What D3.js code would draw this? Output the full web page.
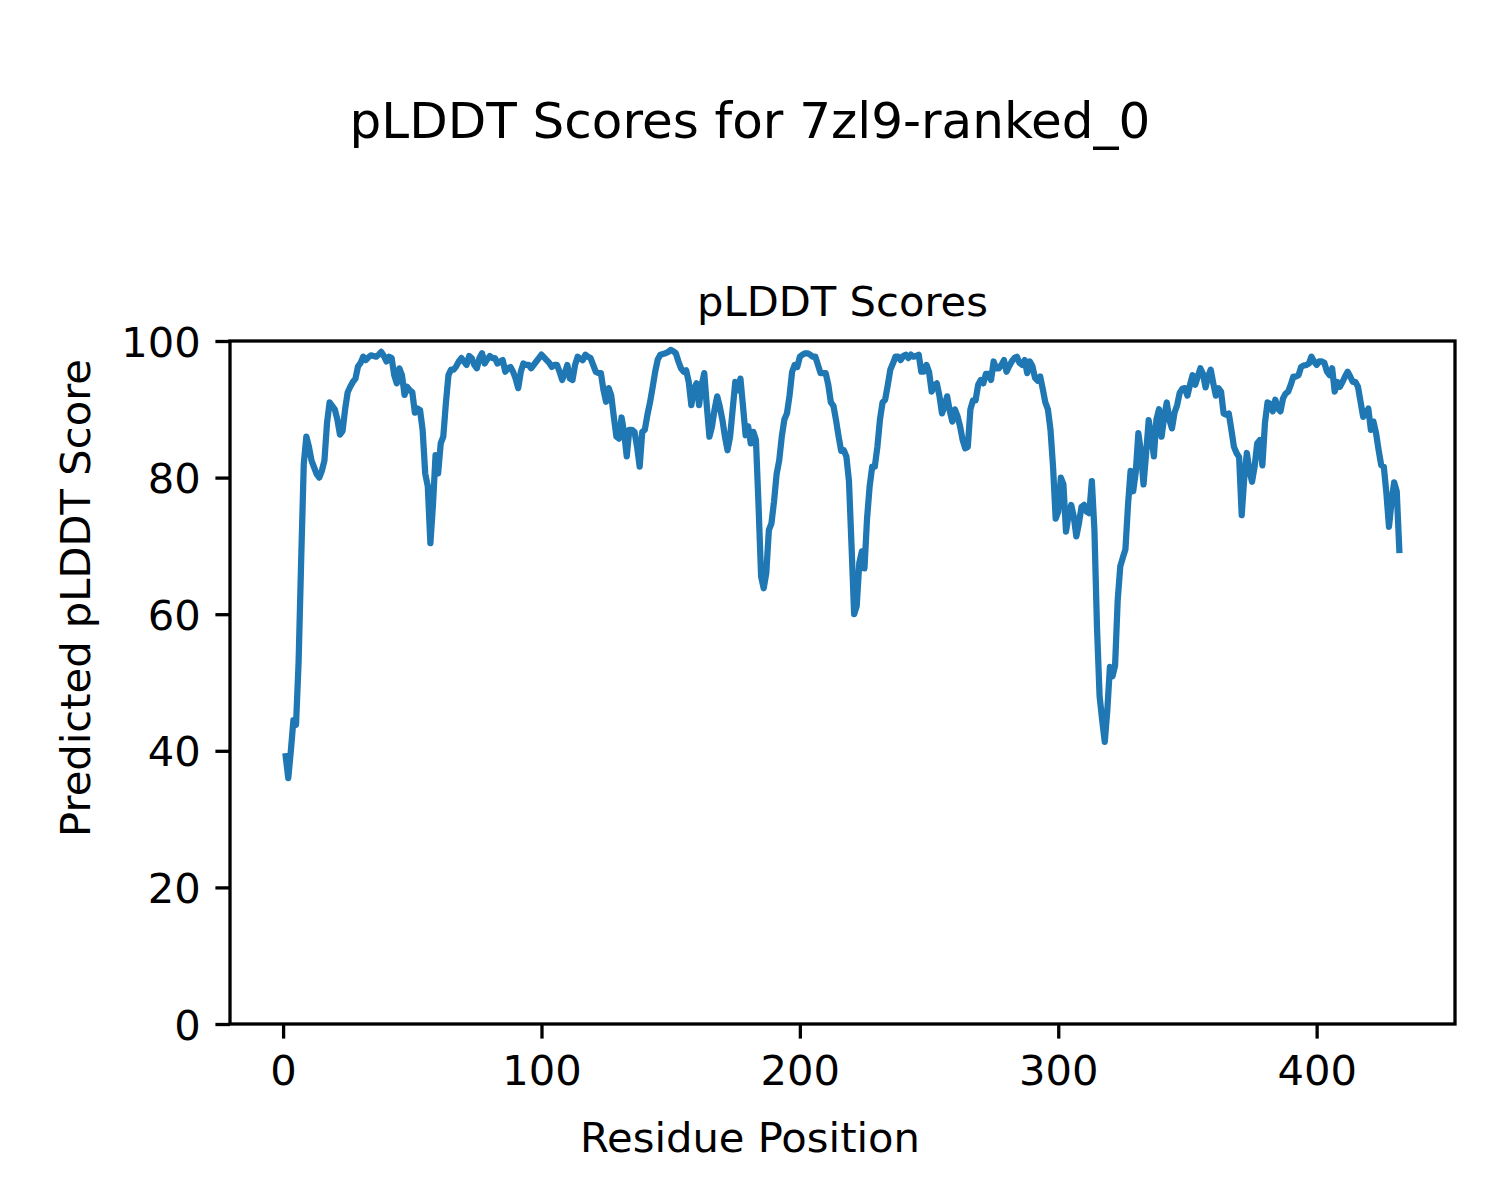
<!DOCTYPE html>
<html>
<head>
<meta charset="utf-8">
<script src="https://cdn.jsdelivr.net/npm/d3@7"></script>
<style>
  html, body { margin: 0; padding: 0; background: #ffffff; }
  svg { display: block; }
  text { font-family: "DejaVu Sans", sans-serif; fill: #000; }
</style>
</head>
<body>
<svg id="chart" width="1500" height="1200"></svg>
<script>
// ---- Data ----
const titleText = "pLDDT Scores for 7zl9-ranked_0";
const axesTitle = "pLDDT Scores";
const xLabel = "Residue Position";
const yLabel = "Predicted pLDDT Score";
const xTicks = [0, 100, 200, 300, 400];
const yTicks = [0, 20, 40, 60, 80, 100];
const firstResidue = 1;

// pLDDT per residue, residues 1..432
const scores = [
  39.2, 36.0, 40.0, 44.5, 43.8, 53.0, 68.0, 82.0, 86.0, 84.5,
  82.5, 81.5, 80.5, 80.0, 81.0, 82.5, 88.0, 91.0, 90.5, 90.0,
  88.5, 86.3, 86.8, 90.0, 92.5, 93.3, 94.0, 94.5, 96.3, 96.8,
  97.7, 97.2, 97.6, 97.9, 97.8, 97.7, 98.0, 98.4, 97.8, 97.0,
  97.7, 97.5, 95.0, 93.8, 96.0, 95.0, 92.1, 93.3, 92.8, 92.5,
  89.5, 90.1, 89.9, 87.0, 80.6, 78.7, 70.4, 76.0, 83.3, 80.6,
  85.0, 86.0, 90.9, 95.0, 95.8, 95.8, 96.3, 97.0, 97.5, 97.0,
  96.5, 97.8, 97.5, 96.5, 96.0, 97.5, 98.2, 96.7, 97.3, 97.8,
  97.5, 97.5, 96.7, 97.0, 97.2, 95.5, 96.0, 96.2, 95.5, 94.5,
  93.1, 95.5, 96.7, 96.5, 96.5, 96.0, 96.5, 97.0, 97.5, 98.0,
  97.6, 97.2, 96.8, 96.2, 96.5, 96.5, 95.5, 94.3, 95.3, 96.5,
  94.5, 94.3, 96.5, 97.7, 97.4, 97.2, 98.0, 97.7, 97.5, 96.5,
  95.5, 95.3, 95.3, 92.8, 91.1, 93.1, 92.0, 88.9, 86.0, 85.7,
  88.8, 86.5, 83.1, 87.0, 87.0, 86.7, 84.5, 81.6, 86.7, 87.0,
  89.2, 91.0, 93.2, 95.5, 97.3, 98.0, 98.1, 98.2, 98.4, 98.7,
  98.5, 98.2, 97.0, 96.0, 95.5, 95.7, 94.0, 90.6, 93.0, 93.8,
  90.6, 93.6, 95.3, 90.4, 86.0, 87.5, 90.0, 91.9, 90.4, 88.5,
  86.0, 84.0, 86.0, 90.0, 94.0, 92.8, 94.5, 90.4, 86.2, 87.5,
  85.0, 86.7, 85.5, 76.0, 65.5, 63.8, 66.0, 72.3, 73.3, 76.5,
  80.5, 82.5, 86.0, 88.5, 89.4, 92.0, 95.5, 96.5, 96.2, 97.7,
  98.0, 98.2, 98.2, 98.0, 97.7, 97.7, 96.5, 95.3, 95.3, 95.3,
  93.6, 91.0, 90.5, 88.4, 86.0, 83.9, 84.0, 83.1, 79.5, 70.0,
  60.0, 61.2, 67.5, 69.2, 66.7, 74.0, 78.7, 81.6, 81.6, 84.5,
  88.5, 91.0, 91.4, 93.5, 95.8, 96.7, 97.7, 97.7, 97.2, 97.8,
  98.0, 97.5, 98.0, 97.7, 97.8, 98.0, 95.5, 95.5, 96.5, 95.5,
  92.6, 93.5, 93.8, 92.0, 89.4, 90.5, 91.9, 89.8, 88.2, 90.0,
  89.0, 87.5, 85.5, 84.3, 84.5, 90.0, 91.3, 91.3, 93.6, 94.3,
  93.8, 95.2, 95.2, 94.3, 97.0, 96.0, 96.0, 96.5, 97.2, 95.5,
  96.3, 97.0, 97.5, 97.7, 96.8, 96.5, 97.2, 95.3, 97.0, 96.3,
  94.6, 94.2, 94.8, 93.0, 91.0, 90.0, 87.0, 81.5, 74.0, 75.0,
  80.0, 79.0, 72.1, 74.5, 76.0, 74.3, 71.4, 73.3, 75.7, 76.0,
  75.0, 74.8, 79.5, 72.3, 58.0, 48.0, 44.5, 41.3, 46.0, 52.3,
  50.9, 52.5, 62.0, 67.0, 68.3, 69.5, 76.0, 81.0, 78.0, 80.8,
  86.5, 83.8, 79.0, 83.5, 88.4, 86.2, 83.1, 88.5, 90.0, 86.0,
  88.9, 91.0, 88.5, 87.2, 89.5, 90.6, 92.4, 93.0, 93.1, 92.0,
  93.6, 95.0, 93.6, 94.8, 96.0, 95.2, 93.2, 94.8, 95.8, 93.8,
  92.0, 93.1, 92.6, 89.4, 89.2, 89.4, 87.0, 84.5, 83.6, 83.0,
  74.5, 80.0, 83.6, 81.0, 79.4, 81.6, 85.0, 85.5, 81.8, 88.0,
  91.0, 90.8, 89.7, 91.4, 90.1, 89.7, 91.6, 92.3, 92.6, 93.6,
  94.8, 94.8, 95.0, 96.2, 96.4, 96.5, 96.7, 97.7, 97.0, 96.5,
  97.0, 97.0, 96.8, 95.5, 95.0, 96.0, 92.6, 94.0, 93.3, 94.0,
  94.8, 95.5, 94.8, 94.0, 94.0, 93.3, 91.1, 88.9, 89.4, 90.1,
  87.0, 88.2, 86.5, 84.0, 81.8, 81.6, 77.7, 72.8, 76.5, 79.3,
  78.0, 69.4
];

// ---- Layout ----
const W = 1500, H = 1200;
const plot = { left: 230, right: 1455, top: 341, bottom: 1024 };
const lineColor = "#1f77b4";
const tickLen = 14.6, tickPad = 14.6, spineW = 3.3;
const fontSmall = 41.67, fontBig = 50;

const residues = scores.map((_, i) => i + firstResidue);
const xMin = d3.min(residues), xMax = d3.max(residues);
const margin = (xMax - xMin) * 0.05;

const x = d3.scaleLinear().domain([xMin - margin, xMax + margin]).range([plot.left, plot.right]);
const y = d3.scaleLinear().domain([0, 100]).range([plot.bottom, plot.top]);

const svg = d3.select("#chart");
svg.append("rect").attr("width", W).attr("height", H).attr("fill", "#fff");

// line
const line = d3.line().x((d, i) => x(residues[i])).y(d => y(d));
svg.append("path")
  .datum(scores)
  .attr("d", line)
  .attr("fill", "none")
  .attr("stroke", lineColor)
  .attr("stroke-width", 6.25)
  .attr("stroke-linejoin", "round")
  .attr("stroke-linecap", "square");

// axes via d3
const xAxis = d3.axisBottom(x).tickValues(xTicks).tickSize(tickLen).tickPadding(tickPad).tickFormat(d3.format("d"));
const yAxis = d3.axisLeft(y).tickValues(yTicks).tickSize(tickLen).tickPadding(tickPad).tickFormat(d3.format("d"));

const gx = svg.append("g").attr("transform", `translate(0,${plot.bottom})`).call(xAxis);
const gy = svg.append("g").attr("transform", `translate(${plot.left},0)`).call(yAxis);
[gx, gy].forEach(g => {
  g.select(".domain").remove();
  g.selectAll(".tick line").attr("stroke", "#000").attr("stroke-width", spineW);
  g.selectAll(".tick text")
    .attr("font-family", "DejaVu Sans")
    .attr("font-size", fontSmall)
    .attr("fill", "#000");
});
gx.selectAll(".tick text").attr("dy", "0.76em");
gy.selectAll(".tick text").attr("dy", "0.36em");

// spines (box)
svg.append("rect")
  .attr("x", plot.left).attr("y", plot.top)
  .attr("width", plot.right - plot.left).attr("height", plot.bottom - plot.top)
  .attr("fill", "none").attr("stroke", "#000").attr("stroke-width", spineW)
  .attr("stroke-linecap", "square");

// texts
svg.append("text")
  .attr("x", 750).attr("y", 138)
  .attr("text-anchor", "middle")
  .attr("font-size", fontBig)
  .text(titleText);

svg.append("text")
  .attr("x", (plot.left + plot.right) / 2).attr("y", 316)
  .attr("text-anchor", "middle")
  .attr("font-size", fontSmall)
  .text(axesTitle);

svg.append("text")
  .attr("x", 750).attr("y", 1152)
  .attr("text-anchor", "middle")
  .attr("font-size", fontSmall)
  .text(xLabel);

svg.append("text")
  .attr("transform", "translate(90,598) rotate(-90)")
  .attr("text-anchor", "middle")
  .attr("font-size", fontSmall)
  .text(yLabel);
</script>
</body>
</html>
